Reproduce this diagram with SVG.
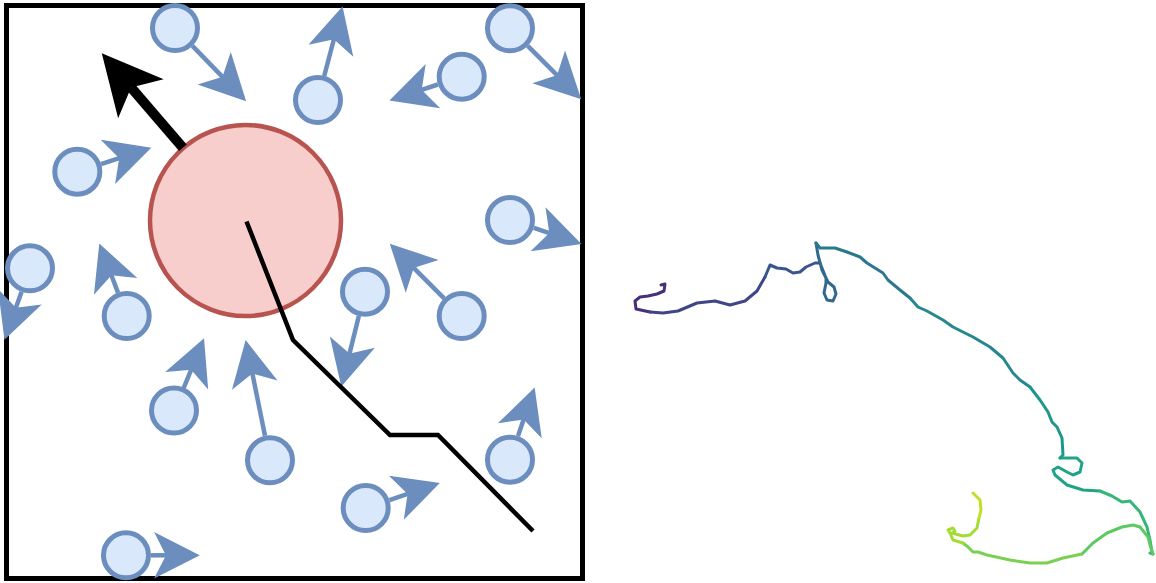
<svg xmlns="http://www.w3.org/2000/svg" width="1156" height="583" viewBox="0 0 1156 583">
<defs>
<style>
.b{fill:#dae8fc;stroke:#6c8ebf;stroke-width:5}
.big{fill:#f8cecc;stroke:#b85450;stroke-width:4.5}
.a{fill:none;stroke:#6c8ebf;stroke-width:4.5;marker-end:url(#mb)}
.t{fill:none;stroke-width:3;stroke-linejoin:round;stroke-linecap:round}
</style>
<marker id="mb" markerUnits="userSpaceOnUse" orient="auto" refX="0" refY="0" viewBox="-12 -23 46 46" markerWidth="46" markerHeight="46" overflow="visible">
<path d="M31.5,0 L-11,-21.5 L0,0 L-11,21.5 Z" fill="#6c8ebf" stroke="#6c8ebf" stroke-width="1.5" stroke-linejoin="miter"/>
</marker>
<marker id="mk" markerUnits="userSpaceOnUse" orient="auto" refX="0" refY="0" viewBox="-16 -31 62 62" markerWidth="62" markerHeight="62" overflow="visible">
<path d="M45,0 L-15,-30 L0,0 L-15,30 Z" fill="#000"/>
</marker>
</defs>
<rect width="1156" height="583" fill="#fff"/>
<rect id="box" x="6.5" y="5.5" width="576" height="573" fill="none" stroke="#000" stroke-width="5"/>
<g id="bigparticle"><circle class="big" cx="245.5" cy="220.5" r="95.5"/></g>
<g id="p1"><circle class="b" cx="175" cy="28" r="22.5"/></g>
<g id="p2"><circle class="b" cx="318" cy="100" r="22.5"/></g>
<g id="p3"><circle class="b" cx="461.7" cy="76.7" r="22.5"/></g>
<g id="p4"><circle class="b" cx="510" cy="28.3" r="22.5"/></g>
<g id="p5"><circle class="b" cx="77.3" cy="171.7" r="22.5"/></g>
<g id="p7"><circle class="b" cx="510" cy="220" r="22.5"/></g>
<g id="p8"><circle class="b" cx="30" cy="268.3" r="22.5"/></g>
<g id="p9"><circle class="b" cx="126.7" cy="316" r="22.5"/></g>
<g id="p10"><circle class="b" cx="365" cy="291.7" r="22.5"/></g>
<g id="p11"><circle class="b" cx="461.7" cy="316" r="22.5"/></g>
<g id="p12"><circle class="b" cx="174" cy="410.5" r="22.5"/></g>
<g id="p13"><circle class="b" cx="270" cy="460.3" r="22.5"/></g>
<g id="p14"><circle class="b" cx="510" cy="459.7" r="22.5"/></g>
<g id="p15"><circle class="b" cx="365.7" cy="508" r="22.5"/></g>
<g id="p16"><circle class="b" cx="126" cy="555.3" r="22.5"/></g>
<g id="connectors">
<path class="a" d="M192.4,45.9 L223,77.4"/>
<path class="a" d="M324.2,76 L334.1,38.5"/>
<path class="a" d="M437.9,84.5 L420.9,90.1"/>
<path class="a" d="M527.7,45.9 L557.7,75.8"/>
<path class="a" d="M101,164.1 L120,157.9"/>
<path class="a" d="M533.8,227.9 L550.1,233.4"/>
<path class="a" d="M21.6,291.8 L15.6,308.6"/>
<path class="a" d="M118,292.6 L111.1,274.5"/>
<path class="a" d="M358.9,315.9 L349.3,354.4"/>
<path class="a" d="M444.1,298.3 L413.2,267.3"/>
<path class="a" d="M183.5,388.5 L191.5,368.9"/>
<path class="a" d="M265,435.8 L252.2,372.6"/>
<path class="a" d="M518,436 L523.9,418.8"/>
<path class="a" d="M389.5,500.1 L408.4,493.7"/>
<path class="a" d="M151,555.3 L166.8,555.3"/>
<path d="M182.9,147.7 L131.1,87.4" fill="none" stroke="#000" stroke-width="10" marker-end="url(#mk)"/>
<path d="M246.5,221.5 L293,340 L390,435 L438,435 L533,531" fill="none" stroke="#000" stroke-width="4.5"/>
</g>
<g id="trajectory">
<path class="t" stroke="#46307c" d="M661,285 L665,284 L664,291 L657,294 L648,296 L640,297 L635,301 L636,309 L650,312"/>
<path class="t" stroke="#414487" d="M650,312 L663,313 L678,311 L697,303 L715,301 L730,305 L745,301 L757,291 L765,277"/>
<path class="t" stroke="#3a548c" d="M765,277 L770,265 L777,268 L786,269 L793,273 L800,272 L806,267 L815,263 L820,263"/>
<path class="t" stroke="#31688e" d="M820,263 L826,278 L826,283 L824,293 L827,300 L833,301 L836,294 L834,287 L828,282 L822,270 L818,255 L816,243"/>
<path class="t" stroke="#2a788e" d="M816,243 L820,248 L835,248 L847,252 L860,257 L867,263 L883,273 L888,280 L900,290 L910,298"/>
<path class="t" stroke="#23898e" d="M910,298 L918,307 L927,311 L943,320 L953,327 L973,337 L990,347 L1003,358 L1013,373 L1020,380 L1030,387"/>
<path class="t" stroke="#1f968b" d="M1030,387 L1040,400 L1048,412 L1052,422 L1057,427 L1062,438 L1063,455 L1060,458"/>
<path class="t" stroke="#20a386" d="M1060,458 L1070,458 L1077,458 L1082,463 L1080,472 L1073,475 L1067,472 L1058,467 L1053,470 L1055,475 L1067,485 L1083,490 L1100,491"/>
<path class="t" stroke="#35b779" d="M1100,491 L1112,496 L1122,502 L1130,501 L1140,512 L1147,527 L1150,540 L1152,552 L1150,553 L1153,554"/>
<path class="t" stroke="#5ec962" d="M1153,554 L1150,545 L1148,537 L1140,527 L1133,525 L1122,527 L1107,533 L1093,543 L1082,554"/>
<path class="t" stroke="#7ad151" d="M1082,554 L1063,558 L1047,563 L1030,563 L1010,560 L987,555 L978,552 L973,552 L968,547 L963,543"/>
<path class="t" stroke="#a5db36" d="M963,543 L953,540 L950,533 L948,530 L953,528 L955,531 L952,533 L963,536 L970,535 L977,528 L979,518"/>
<path class="t" stroke="#c2df23" d="M979,518 L981,510 L980,500 L973,493"/>
</g>
</svg>
